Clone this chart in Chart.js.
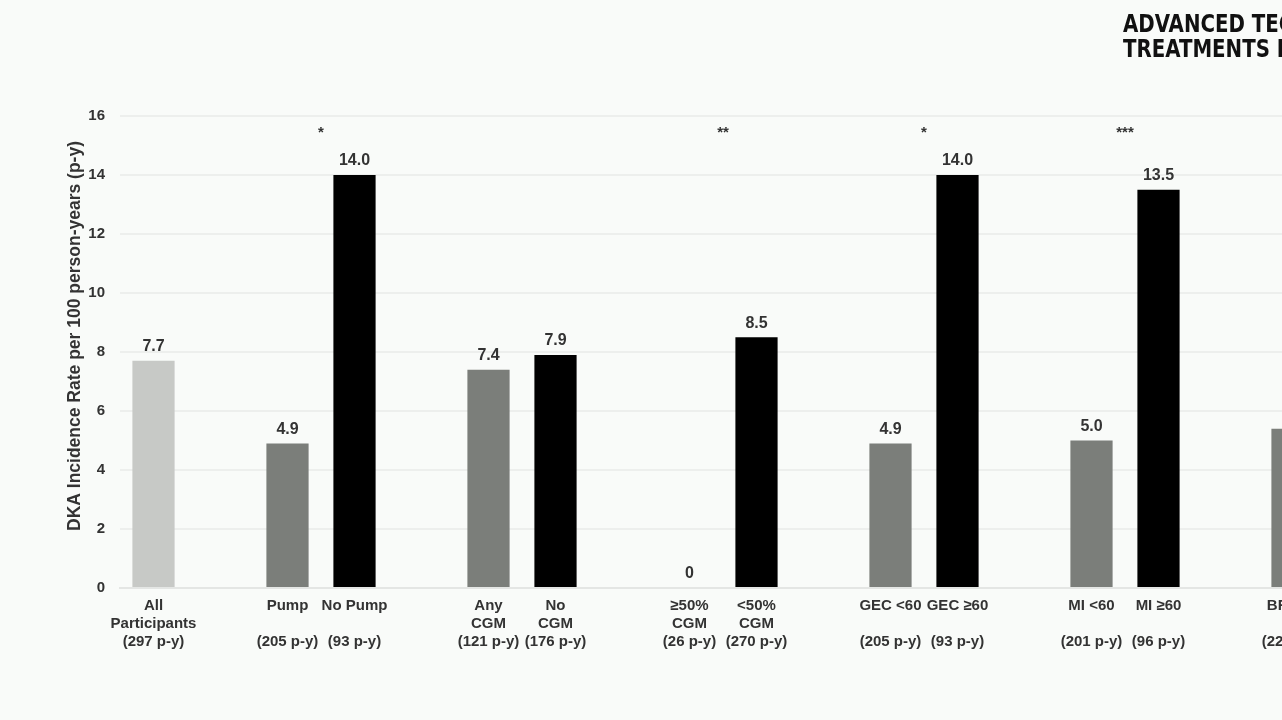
<!DOCTYPE html>
<html>
<head>
<meta charset="utf-8">
<script src="https://cdn.jsdelivr.net/npm/chart.js"></script>
<style>
  html, body { margin: 0; padding: 0; overflow: hidden; background: #f9fbf9; }
  #wrap { position: relative; width: 1340px; height: 720px; }
  #heading {
    position: absolute; left: 1123px; top: 11px; white-space: nowrap;
    font-family: "Liberation Sans Narrow", "DejaVu Sans Condensed", sans-serif;
    font-weight: bold; font-size: 25px; line-height: 25px; color: #111;
    transform: scaleX(0.88); transform-origin: left top;
  }
</style>
</head>
<body>
<div id="wrap">
  <canvas id="dkaChart" width="1340" height="720"></canvas>
  <div id="heading">ADVANCED TECHNOLOGIES &amp;<br>TREATMENTS FOR DIABETES</div>
</div>
<script>
// Categories (empty strings are the gaps between groups)
const categories = [
    ["All", "Participants", "(297 p-y)"],
    "",
    ["Pump", "", "(205 p-y)"],
    ["No Pump", "", "(93 p-y)"],
    "",
    ["Any", "CGM", "(121 p-y)"],
    ["No", "CGM", "(176 p-y)"],
    "",
    ["≥50%", "CGM", "(26 p-y)"],
    ["<50%", "CGM", "(270 p-y)"],
    "",
    ["GEC <60", "", "(205 p-y)"],
    ["GEC ≥60", "", "(93 p-y)"],
    "",
    ["MI <60", "", "(201 p-y)"],
    ["MI ≥60", "", "(96 p-y)"],
    "",
    ["BR <60", "", "(220 p-y)"]
];

// DKA incidence per 100 person-years
const dkaRates = [7.7, null, 4.9, 14.0, null, 7.4, 7.9, null, 0, 8.5, null, 4.9, 14.0, null, 5.0, 13.5, null, 5.4];

// which kind of bar each one is
const barKind = ["overall", null, "lower", "higher", null, "lower", "higher", null, "lower", "higher", null, "lower", "higher", null, "lower", "higher", null, "lower"];

// significance markers between bar pairs
const sigPairs = [[2, 3], [8, 9], [11, 12], [14, 15]];
const sigLabels = ["*", "**", "*", "***"];

// y axis
const yTicks = [0, 2, 4, 6, 8, 10, 12, 14, 16];
const yTitle = "DKA Incidence Rate per 100 person-years (p-y)";

const kindColors = { overall: "#c7c9c6", lower: "#7b7e7a", higher: "#000000" };
const textColor = "#333333";
const fontFamily = "'Liberation Sans', Arial, sans-serif";

// draw the value above each bar
const valueLabelPlugin = {
    id: "valueLabels",
    afterDatasetsDraw(chart) {
        const ctx = chart.ctx;
        const meta = chart.getDatasetMeta(0);
        ctx.save();
        ctx.font = "bold 16px " + fontFamily;
        ctx.fillStyle = textColor;
        ctx.textAlign = "center";
        ctx.textBaseline = "middle";
        meta.data.forEach((bar, i) => {
            const v = dkaRates[i];
            if (v === null || v === undefined) return;
            const txt = v === 0 ? "0" : v.toFixed(1);
            ctx.fillText(txt, bar.x, bar.y - 14);
        });
        ctx.restore();
    }
};

// draw the significance stars and the y axis title
const sigPlugin = {
    id: "sigStars",
    afterDatasetsDraw(chart) {
        const ctx = chart.ctx;
        const x = chart.scales.x;
        const area = chart.chartArea;
        ctx.save();
        ctx.font = "bold 15px " + fontFamily;
        ctx.fillStyle = textColor;
        ctx.textAlign = "center";
        ctx.textBaseline = "middle";
        sigPairs.forEach((pair, i) => {
            const mid = (x.getPixelForValue(pair[0]) + x.getPixelForValue(pair[1])) / 2;
            ctx.fillText(sigLabels[i], mid, area.top + 17);
        });

        // axis title, sits a little above the middle of the plot
        ctx.translate(area.left - 45, (area.top + area.bottom) / 2 - 16);
        ctx.rotate(-Math.PI / 2);
        ctx.font = "bold 17.5px " + fontFamily;
        ctx.fillText(yTitle, 0, 0);
        ctx.restore();
    }
};

const chartCanvas = document.getElementById("dkaChart").getContext("2d");

new Chart(chartCanvas, {
    type: "bar",
    data: {
        labels: categories,
        datasets: [{
            data: dkaRates,
            backgroundColor: barKind.map(k => k ? kindColors[k] : "transparent"),
            borderWidth: 0,
            barPercentage: 0.63,
            categoryPercentage: 1.0
        }]
    },
    options: {
        responsive: false,
        animation: false,
        devicePixelRatio: 1,
        layout: { padding: { left: 60, right: 14, top: 116, bottom: 60 } },
        plugins: {
            legend: { display: false },
            tooltip: { enabled: false }
        },
        scales: {
            x: {
                grid: { display: false, drawTicks: false },
                border: { display: true, color: "#e4e6e4", width: 2 },
                ticks: {
                    autoSkip: false,
                    maxRotation: 0,
                    padding: 9,
                    color: textColor,
                    font: { family: fontFamily, size: 15, weight: "bold", lineHeight: 1.2 }
                }
            },
            y: {
                min: yTicks[0],
                max: yTicks[yTicks.length - 1],
                afterBuildTicks: axis => { axis.ticks = yTicks.map(v => ({ value: v })); },
                afterFit: axis => { axis.width = 60; },
                grid: { color: "#edefed", lineWidth: 2, drawTicks: false },
                border: { display: false },
                ticks: {
                    padding: 15,
                    color: textColor,
                    font: { family: fontFamily, size: 15, weight: "bold" }
                },
                title: { display: false }
            }
        }
    },
    plugins: [valueLabelPlugin, sigPlugin]
});
</script>
</body>
</html>
